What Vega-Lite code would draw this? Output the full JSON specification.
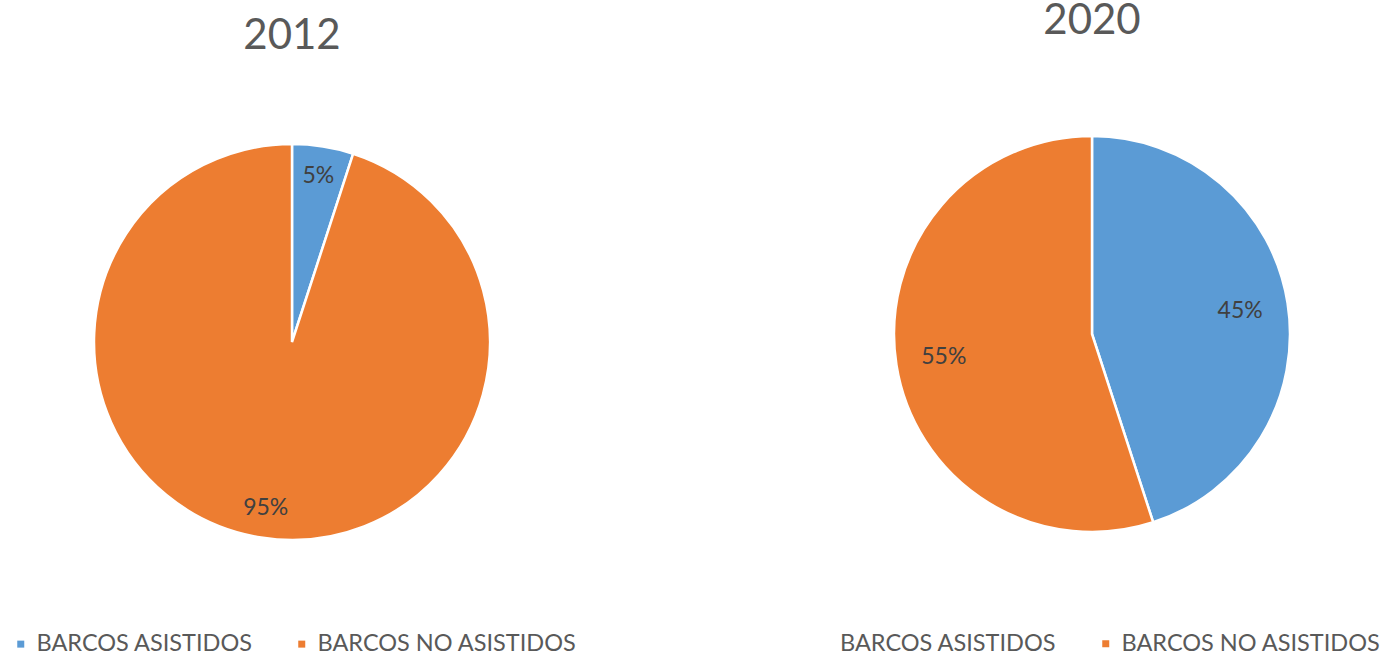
{
  "$schema": "https://vega.github.io/schema/vega-lite/v6.json",
  "padding": 0,
  "background": "white",
  "bounds": "flush",
  "config": {
    "view": {"stroke": null},
    "font": "Lato",
    "concat": {"spacing": 231},
    "title": {"font": "Lato", "fontSize": 42, "fontWeight": "normal", "color": "#595959"},
    "legend": {
      "orient": "none",
      "direction": "horizontal",
      "labelFont": "Lato",
      "labelFontSize": 23.5,
      "labelColor": "#595959",
      "labelLimit": 400,
      "symbolType": "square",
      "symbolSize": 49,
      "symbolStrokeWidth": 0,
      "labelOffset": 4,
      "columnPadding": 37,
      "padding": 0
    }
  },
  "datasets": {
    "pies": [
      {"year": "2012", "category": "BARCOS ASISTIDOS", "value": 5, "label": "5%"},
      {"year": "2012", "category": "BARCOS NO ASISTIDOS", "value": 95, "label": "95%"},
      {"year": "2020", "category": "BARCOS ASISTIDOS", "value": 45, "label": "45%"},
      {"year": "2020", "category": "BARCOS NO ASISTIDOS", "value": 55, "label": "55%"}
    ]
  },
  "resolve": {"scale": {"color": "independent"}, "legend": {"color": "independent"}},
  "hconcat": [
    {
      "title": {"text": "2012", "offset": 33},
      "width": 584,
      "height": 502,
      "data": {"name": "pies"},
      "transform": [{"filter": "datum.year === '2012'"}],
      "encoding": {
        "theta": {"field": "value", "type": "quantitative", "stack": true},
        "color": {
          "field": "category",
          "type": "nominal",
          "scale": {"domain": ["BARCOS ASISTIDOS", "BARCOS NO ASISTIDOS"], "range": ["#5B9BD5", "#ED7D31"]},
          "legend": {"title": null, "legendX": 9, "legendY": 541}
        }
      },
      "layer": [
        {"mark": {"type": "arc", "outerRadius": 198, "stroke": "white", "strokeWidth": 2.5}},
        {"mark": {"type": "text", "radius": 168, "fontSize": 23, "font": "Lato", "fill": "#404040"},
         "encoding": {"text": {"field": "label"}, "color": {"value": "#404040"}}}
      ]
    },
    {
      "title": {"text": "2020", "offset": 48},
      "width": 554,
      "height": 486,
      "data": {"name": "pies"},
      "transform": [{"filter": "datum.year === '2020'"}],
      "encoding": {
        "theta": {"field": "value", "type": "quantitative", "stack": true},
        "color": {
          "field": "category",
          "type": "nominal",
          "scale": {"domain": ["BARCOS ASISTIDOS", "BARCOS NO ASISTIDOS"], "range": ["#5B9BD5", "#ED7D31"]},
          "legend": {
            "title": "BARCOS ASISTIDOS",
            "titleOrient": "left",
            "titleFont": "Lato",
            "titleFontSize": 23.5,
            "titleFontWeight": "normal",
            "titleColor": "#595959",
            "titleLimit": 400,
            "titlePadding": 37,
            "titleBaseline": "middle",
            "values": ["BARCOS NO ASISTIDOS"],
            "legendX": 25,
            "legendY": 541
          }
        }
      },
      "layer": [
        {"mark": {"type": "arc", "outerRadius": 198, "stroke": "white", "strokeWidth": 2.5}},
        {"mark": {"type": "text", "radius": 150, "fontSize": 23, "font": "Lato", "fill": "#404040"},
         "encoding": {"text": {"field": "label"}, "color": {"value": "#404040"}}}
      ]
    }
  ]
}
